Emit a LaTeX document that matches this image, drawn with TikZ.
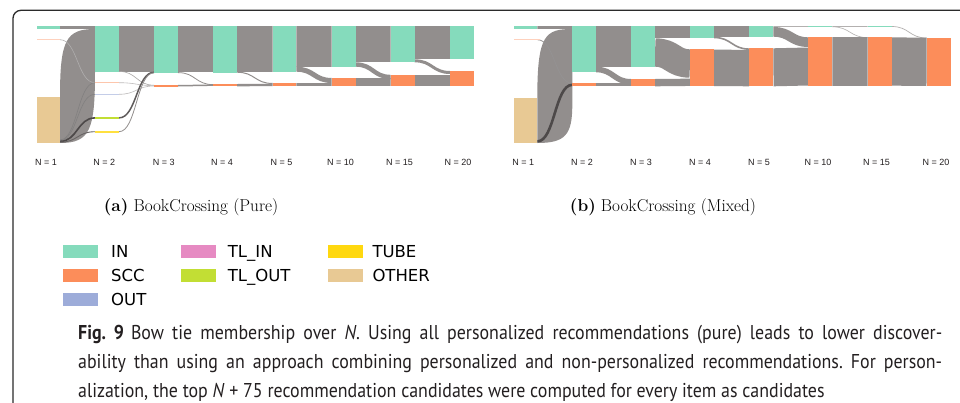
\documentclass[tikz,border=0pt]{standalone}
\usepackage{fontspec}
\newfontfamily\legendfont{DejaVu Sans}
\newfontfamily\axisfont{Liberation Sans}
\newfontfamily\captionfont[FakeStretch=0.895]{PT Sans}

\definecolor{cIN}{HTML}{85DBBC}
\definecolor{cSCC}{HTML}{FC8D5A}
\definecolor{cOUT}{HTML}{9DACD9}
\definecolor{cTLIN}{HTML}{E68AC2}
\definecolor{cTLOUT}{HTML}{C2DE34}
\definecolor{cTUBE}{HTML}{FFD80F}
\definecolor{cOTHER}{HTML}{E8C994}
\definecolor{cflow}{HTML}{928E8D}
\definecolor{cflowdark}{HTML}{4D4949}
\definecolor{cframe}{HTML}{2B2B2B}
\definecolor{ctext}{HTML}{231F20}

% block of a Sankey column: colour, x1, y1, x2, y2
\newcommand{\blk}[5]{\fill[#1] (#2,#3) rectangle (#4,#5);}
% Sankey link drawn as a thick curve, clipped to the gap between columns
% [options]{x1}{y1}{x2}{y2}{width}
\newcommand{\flow}[6][]{%
  \begin{scope}
    \clip (#2,0) rectangle (#4,402);
    \draw[flowline,line width=#6pt,#1] (#2,#3) .. controls ({(#2+#4)/2},#3) and ({(#2+#4)/2},#5) .. (#4,#5);
  \end{scope}}

\tikzset{
  flowline/.style={draw=cflow,line cap=butt},
  axislabel/.style={font=\axisfont\fontsize{9}{10}\selectfont,text=ctext,inner sep=0pt},
  subcap/.style={font=\fontsize{17.2}{20}\selectfont,text=black,inner sep=0pt},
  swatch/.style={minimum width=35pt,minimum height=12.5pt,inner sep=0pt,anchor=north west},
  legtext/.style={font=\legendfont\fontsize{16.5}{18}\selectfont,text=black,inner sep=0pt,anchor=base west},
  captext/.style={font=\captionfont\fontsize{20}{29}\selectfont\frenchspacing,text=ctext,inner sep=0pt,anchor=base west}
}

\begin{document}
\begin{tikzpicture}[x=1pt,y=-1pt]
\useasboundingbox (0,0) rectangle (960,402);
\fill[white] (0,0) rectangle (960,402);

% frame around the figure
\draw[cframe,line width=1.3pt,rounded corners=8pt] (13,404) -- (13,10.3) -- (962,10.3);

% ---------------- left panel: pure ----------------
% N=1 -> N=2
\flow{60}{27.5}{95}{27.5}{3}
% wide OTHER -> IN ribbon
\fill[cflow] (60,96.7) .. controls (60,40) and (66,29) .. (95,29)
  -- (95,72) .. controls (95,130) and (90,143) .. (60,143) -- cycle;
\flow[draw=cflowdark!45]{60}{39.7}{95}{82.7}{0.6}
\flow[draw=cflowdark!70]{60}{139.9}{95}{82.7}{0.6}
\flow[draw=cflowdark!70]{60}{140.5}{95}{94.3}{0.6}
\flow[draw=cflowdark]{60}{141.4}{95}{117.9}{1.6}
\flow[draw=cflowdark!85]{60}{142.2}{95}{131.7}{0.9}
% N=2 -> N=3
\flow{119}{48.85}{154}{48.85}{45.7}
\flow[draw=cflow!80]{119}{71.4}{154}{85.2}{0.6}
\flow[draw=cflow!60]{119}{82.7}{154}{85.6}{0.6}
\flow[draw=cflow!60]{119}{94.3}{154}{86}{0.6}
\flow[draw=cflowdark!90]{119}{117.9}{154}{72.3}{1.5}
\flow[draw=cflow]{119}{131.7}{154}{72.8}{0.8}
% N=3 -> N=4
\flow{178}{49.1}{213}{49.1}{46.2}
\flow{178}{72.6}{213}{84.6}{0.8}
\flow{178}{85.75}{213}{85.15}{1.5}
% N=4 -> N=5
\flow{237}{48.85}{272.7}{48.85}{45.7}
\flow{237}{72.2}{272.7}{83.5}{1}
\flow{237}{85.15}{272.7}{85}{2.3}
% N=5 -> N=10
\flow{296.3}{46.35}{331.7}{46.35}{40.7}
\flow{296.3}{69.2}{331.7}{80.5}{5}
\flow{296.3}{84.5}{331.7}{84.5}{3}
% N=10 -> N=15
\flow{355.7}{44.15}{390.7}{44.15}{36.3}
\flow{355.7}{64.5}{390.7}{77}{4.4}
\flow{355.7}{82}{390.7}{82}{8}
% N=15 -> N=20
\flow{414.7}{42.65}{450}{42.65}{33.3}
\flow{414.7}{60.8}{450}{72.5}{3}
\flow{414.7}{80.5}{450}{80.5}{11}

% columns
\blk{cIN}{36.7}{26}{60}{29}
\blk{cSCC!40}{36.7}{39.2}{60}{40.2}
\blk{cOTHER}{36.7}{96.7}{60}{142.7}
\blk{cIN}{95}{26}{119}{71.7}
\blk{cSCC!50}{95}{82.2}{119}{83.2}
\blk{cOUT!60}{95}{93.8}{119}{94.8}
\blk{cTLOUT}{95}{116.8}{119}{119}
\blk{cTUBE!80}{95}{131}{119}{132.5}
\blk{cIN}{154}{26}{178}{73}
\blk{cSCC}{154}{85}{178}{86.5}
\blk{cIN}{213}{26}{237}{72.7}
\blk{cSCC}{213}{84}{237}{86.3}
\blk{cIN}{272.7}{26}{296.3}{71.7}
\blk{cSCC}{272.7}{83}{296.3}{86}
\blk{cIN}{331.7}{26}{355.7}{66.7}
\blk{cSCC}{331.7}{78}{355.7}{86}
\blk{cIN}{390.7}{26}{414.7}{62.3}
\blk{cSCC}{390.7}{75}{414.7}{86}
\blk{cIN}{450}{26}{474}{59.3}
\blk{cSCC}{450}{71}{474}{86}

% ---------------- right panel: mixed ----------------
% N=1 -> N=2
\flow{537.3}{27.35}{572.3}{27.35}{2.7}
% wide OTHER -> IN ribbon
\fill[cflow] (537.3,97.7) .. controls (537.3,35) and (545,29) .. (572.3,29)
  -- (572.3,105) .. controls (572.3,135) and (565,143) .. (537.3,143) -- cycle;
\flow[draw=cflowdark!60]{537.3}{39.7}{572.3}{83.3}{0.8}
\flow[draw=cflowdark]{537.3}{141.4}{572.3}{84.8}{2.6}
% N=2 -> N=3
\flow{596}{46.35}{631}{46.35}{40.7}
\flow{596}{69.5}{631}{81.8}{5.6}
\flow{596}{84.8}{631}{84.8}{3}
% N=3 -> N=4
\flow{655}{32.15}{690}{32.15}{12.3}
\flow{655}{52.5}{690}{63.5}{28.4}
\flow{655}{82.65}{690}{82.3}{7.3}
% N=4 -> N=5
\flow{714}{31.35}{749.3}{31.35}{10.7}
\flow{714}{37.5}{749.3}{49.1}{1.6}
\flow{714}{67.8}{749.3}{68.1}{36.4}
% N=5 -> N=10
\flow[draw=cflow!70]{773.3}{26.5}{808.3}{26.5}{1}
\flow{773.3}{31.85}{808.3}{42.15}{9.7}
\flow{773.3}{67.3}{808.3}{66.5}{38}
% N=10 -> N=15
\flow[draw=cflow!70]{832.3}{26.4}{867.7}{26.4}{0.8}
\flow[draw=cflow!70]{832.3}{26.8}{867.7}{37.6}{0.6}
\flow{832.3}{61.5}{867.7}{61.5}{48.4}
% N=15 -> N=20
\flow[draw=cflow!70]{891.7}{26.5}{926.7}{38}{0.7}
\flow{891.7}{61.5}{926.7}{61.85}{48.3}

% columns
\blk{cIN}{514}{26}{537.3}{28.7}
\blk{cSCC!40}{514}{39.2}{540}{40.2}
\blk{cOTHER}{514}{97.7}{537.3}{142.7}
\blk{cIN}{572.3}{26}{596}{72.3}
\blk{cSCC}{572.3}{83.3}{596}{86.3}
\blk{cIN}{631}{26}{655}{66.7}
\blk{cSCC}{631}{79}{655}{86.3}
\blk{cIN}{690}{26}{714}{38.3}
\blk{cSCC}{690}{49.3}{714}{86.3}
\blk{cIN}{749.3}{26}{773.3}{36.7}
\blk{cSCC}{749.3}{48.3}{773.3}{86.3}
\blk{cIN}{808.3}{26}{832.3}{27}
\blk{cSCC}{808.3}{37.3}{832.3}{85.7}
\blk{cIN}{867.7}{26}{891.7}{27}
\blk{cSCC}{867.7}{37.3}{891.7}{85.7}
\blk{cSCC}{926.7}{37.7}{950.7}{86}

% axis labels
\foreach \px/\t/\nm in {46/1/la1,104.3/2/la2,163.7/3/la3,222/4/la4,281.5/5/la5,340.5/10/la10,399.5/15/la15,458/20/la20}
  \node[axislabel] (\nm) at (\px,162.7) {N = \t};
\foreach \px/\t/\nm in {523.3/1/lb1,582/2/lb2,641/3/lb3,700/4/lb4,759/5/lb5,818/10/lb10,876.5/15/lb15,936/20/lb20}
  \node[axislabel] (\nm) at (\px,162.7) {N = \t};

% sub-captions
\node[subcap] (suba) at (191,207) {\textbf{(a)} BookCrossing (Pure)};
\node[subcap] (subb) at (663,207) {\textbf{(b)} BookCrossing (Mixed)};

% legend
\node[swatch,fill=cIN] (swIN) at (63,245) {};
\node[legtext] (tIN) at (111,257.5) {IN};
\node[swatch,fill=cSCC] (swSCC) at (63,269) {};
\node[legtext] (tSCC) at (111,281.5) {SCC};
\node[swatch,fill=cOUT] (swOUT) at (63,293) {};
\node[legtext] (tOUT) at (111,305.5) {OUT};
\node[swatch,fill=cTLIN] (swTLIN) at (181,245) {};
\node[legtext] (tTLIN) at (227.7,257.5) {TL\_IN};
\node[swatch,fill=cTLOUT] (swTLOUT) at (181,269) {};
\node[legtext] (tTLOUT) at (227.7,281.5) {TL\_OUT};
\node[swatch,fill=cTUBE] (swTUBE) at (328,245) {};
\node[legtext] (tTUBE) at (372.3,257.5) {TUBE};
\node[swatch,fill=cOTHER] (swOTHER) at (328,269) {};
\node[legtext] (tOTHER) at (372.3,281.5) {OTHER};

% figure caption
\node[captext] (cap1) at (78,339) {\makebox[864pt][s]{\textbf{Fig.~9}\hspace{7pt}Bow tie membership over \textit{N}. Using all personalized recommendations (pure) leads to lower discover-}};
\node[captext] (cap2) at (78,368) {\makebox[864pt][s]{ability than using an approach combining personalized and non-personalized recommendations. For person-}};
\node[captext] (cap3) at (78,397) {alization, the top \textit{N}~+~75 recommendation candidates were computed for every item as candidates};
\end{tikzpicture}
\end{document}
